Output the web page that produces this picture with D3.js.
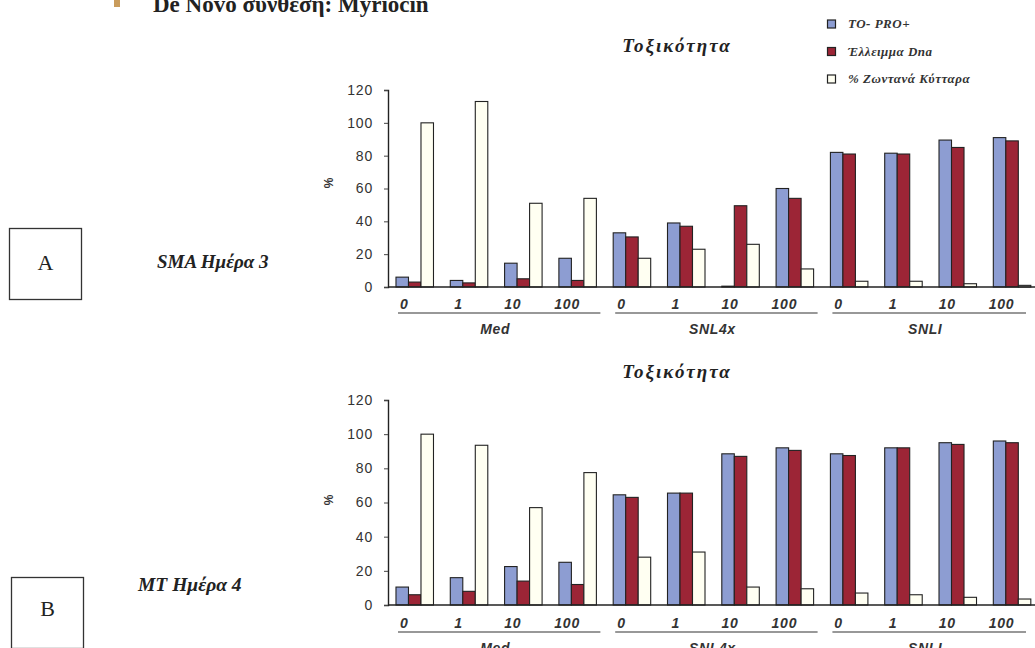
<!DOCTYPE html>
<html>
<head>
<meta charset="utf-8">
<script src="https://cdn.jsdelivr.net/npm/d3@7"></script>
<style>
  html, body { margin: 0; padding: 0; background: #fff; }
  svg { display: block; }
</style>
</head>
<body>
<svg id="fig" width="1035" height="648"></svg>
<script>
// Doses (μM) within each medium, and the three media
const doses = ["0", "1", "10", "100"];
const media = ["Med", "SNL4x", "SNLI"];
const seriesNames = ["TO- PRO+", "Έλλειμμα Dna", "% Ζωντανά Κύτταρα"];
const yTicks = [0, 20, 40, 60, 80, 100, 120];

// Panel A: SMA, day 3
const smaToPro   = [6, 4, 14.5, 17.5, 33, 39, 0.5, 60, 82, 81.5, 89.5, 91];
const smaDnaLoss = [3, 2.5, 5, 4, 30.5, 37, 49.5, 54, 81, 81, 85, 89];
const smaLive    = [100, 113, 51, 54, 17.5, 23, 26, 11, 3.5, 3.5, 2, 1];

// Panel B: MT, day 4
const mtToPro   = [10.5, 16, 22.5, 25, 64.5, 65.5, 88.5, 92, 88.5, 92, 95, 96];
const mtDnaLoss = [6, 8, 14, 12, 63, 65.5, 87, 90.5, 87.5, 92, 94, 95];
const mtLive    = [100, 93.5, 57, 77.5, 28, 31, 10.5, 9.5, 7, 6, 4.5, 3.5];

const colors = ["#8d9dd2", "#9c2536", "#fffff2"];
const serif = "'Liberation Serif', 'DejaVu Serif', serif";
const sans = "'Liberation Sans', Arial, sans-serif";
const ink = "#222";

const svg = d3.select("#fig");

// Category keys: one per (medium, dose) pair
const cats = [];
media.forEach(m => doses.forEach(d => cats.push(m + "|" + d)));

const x = d3.scaleBand()
  .domain(cats)
  .range([388, 1038.8])
  .paddingInner(0.3094)
  .paddingOuter(0.147);

const xs = d3.scaleBand()
  .domain(d3.range(seriesNames.length))
  .range([0, x.bandwidth()])
  .padding(0);

// Slide heading
svg.append("rect")
  .attr("x", 114).attr("y", 0).attr("width", 6).attr("height", 7)
  .attr("fill", "#c99c5c");
svg.append("text")
  .attr("x", 153).attr("y", 12)
  .attr("font-family", serif).attr("font-weight", "bold").attr("font-size", 23)
  .attr("fill", ink)
  .text("De Novo σύνθεση: Myriocin");

// Legend
const legend = svg.append("g");
seriesNames.forEach((name, i) => {
  const cy = 24 + i * 27.5;
  legend.append("rect")
    .attr("x", 827.5).attr("y", cy - 4).attr("width", 8).attr("height", 8)
    .attr("fill", colors[i]).attr("stroke", ink).attr("stroke-width", 1.2);
  legend.append("text")
    .attr("x", 848).attr("y", cy + 4)
    .attr("font-family", serif).attr("font-style", "italic").attr("font-weight", "bold")
    .attr("font-size", 13).attr("letter-spacing", 0.5).attr("fill", "#333")
    .text(name);
});

function panel(cfg) {
  const y = d3.scaleLinear().domain([0, 120]).range([cfg.y0, cfg.y120]);
  const g = svg.append("g");
  const series = [cfg.toPro, cfg.dnaLoss, cfg.live];

  // Title
  g.append("text")
    .attr("x", 677).attr("y", cfg.titleY)
    .attr("text-anchor", "middle")
    .attr("font-family", serif).attr("font-style", "italic").attr("font-weight", "bold")
    .attr("font-size", 19).attr("letter-spacing", 2).attr("fill", ink)
    .text("Τοξικότητα");

  // Bars
  series.forEach((vals, si) => {
    g.append("g").selectAll("rect")
      .data(vals)
      .join("rect")
      .attr("x", (v, i) => x(cats[i]) + xs(si))
      .attr("width", xs.bandwidth())
      .attr("y", v => y(v))
      .attr("height", v => y(0) - y(v))
      .attr("fill", colors[si])
      .attr("stroke", ink)
      .attr("stroke-width", 1.1);
  });

  // Baseline
  g.append("line")
    .attr("x1", 388).attr("x2", 1035)
    .attr("y1", y(0)).attr("y2", y(0))
    .attr("stroke", ink).attr("stroke-width", 1.3);

  // Y axis
  const ya = g.append("g")
    .attr("transform", "translate(388,0)")
    .call(d3.axisLeft(y).tickValues(yTicks).tickSize(4).tickPadding(11));
  ya.select(".domain").attr("stroke", ink).attr("stroke-width", 1.4);
  ya.selectAll(".tick line").attr("stroke", "#444");
  ya.selectAll(".tick text")
    .attr("font-family", sans).attr("font-size", 14).attr("letter-spacing", 0.8)
    .attr("fill", "#333");

  g.append("text")
    .attr("transform", `translate(333,${cfg.pctY}) rotate(-90)`)
    .attr("text-anchor", "middle")
    .attr("font-family", sans).attr("font-weight", "bold").attr("font-size", 12)
    .attr("fill", "#333")
    .text("%");

  // Dose labels under each group, underlined per medium
  g.append("g").selectAll("text")
    .data(cats)
    .join("text")
    .attr("x", c => x(c) + xs.bandwidth() * 0.5 + 2)
    .attr("y", cfg.doseY)
    .attr("text-anchor", "middle")
    .attr("font-family", sans).attr("font-style", "italic").attr("font-weight", "bold")
    .attr("font-size", 14).attr("letter-spacing", 0.8).attr("fill", "#333")
    .text(c => c.split("|")[1]);

  media.forEach((m, mi) => {
    const first = x(m + "|" + doses[0]);
    const last = x(m + "|" + doses[doses.length - 1]);
    const x1 = first + 2;
    const x2 = Math.min(last + x.bandwidth() + 4, 1026);
    g.append("line")
      .attr("x1", x1).attr("x2", x2)
      .attr("y1", cfg.doseY + 4).attr("y2", cfg.doseY + 4)
      .attr("stroke", "#333").attr("stroke-width", 1.2);
    g.append("text")
      .attr("x", (x1 + x2) / 2 - 4)
      .attr("y", cfg.mediaY)
      .attr("text-anchor", "middle")
      .attr("font-family", sans).attr("font-style", "italic").attr("font-weight", "bold")
      .attr("font-size", 14).attr("letter-spacing", 0.6).attr("fill", "#333")
      .text(m);
  });

  // Panel tag and caption on the left
  g.append("rect")
    .attr("x", cfg.boxX).attr("y", cfg.boxY).attr("width", 72).attr("height", 71)
    .attr("fill", "none").attr("stroke", "#333").attr("stroke-width", 1.3);
  g.append("text")
    .attr("x", cfg.boxX + 36).attr("y", cfg.letterY)
    .attr("text-anchor", "middle")
    .attr("font-family", serif).attr("font-size", 22).attr("fill", ink)
    .text(cfg.letter);
  g.append("text")
    .attr("x", cfg.capX).attr("y", cfg.capY)
    .attr("font-family", serif).attr("font-style", "italic").attr("font-weight", "bold")
    .attr("font-size", cfg.capSize).attr("fill", ink)
    .text(cfg.caption);
}

panel({
  y0: 287, y120: 90, titleY: 52, pctY: 183, doseY: 309, mediaY: 334,
  toPro: smaToPro, dnaLoss: smaDnaLoss, live: smaLive,
  boxX: 9.5, boxY: 228.5, letter: "A", letterY: 270,
  capX: 157, capY: 268, capSize: 19, caption: "SMA Ημέρα 3"
});

panel({
  y0: 605, y120: 400, titleY: 378, pctY: 500, doseY: 628, mediaY: 653,
  toPro: mtToPro, dnaLoss: mtDnaLoss, live: mtLive,
  boxX: 11.5, boxY: 577.5, letter: "B", letterY: 616,
  capX: 138, capY: 591, capSize: 19.5, caption: "MT Ημέρα 4"
});
</script>
</body>
</html>
